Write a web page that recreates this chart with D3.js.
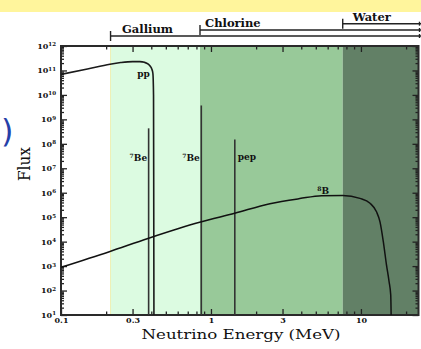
<!DOCTYPE html>
<html>
<head>
<meta charset="utf-8">
<script src="https://cdn.jsdelivr.net/npm/d3@7"></script>
<style>
  body { margin: 0; background: #fff; }
  svg { display: block; }
  text { font-family: "DejaVu Serif", serif; fill: #111; }
</style>
</head>
<body>
<svg id="chart" width="421" height="349"></svg>
<script>
// pp continuum: energy (MeV) and flux
const ppEnergy = [0.1, 0.15, 0.212, 0.25, 0.3, 0.336, 0.36, 0.382, 0.395, 0.403, 0.41, 0.414, 0.4155, 0.4165];
const ppFlux   = [6.9e10, 1.15e11, 1.8e11, 2.1e11, 2.3e11, 2.3e11, 2.15e11, 1.8e11, 1.45e11, 1.15e11, 7.5e10, 1e10, 1e5, 10];

// 8B continuum
const b8Energy = [0.1, 0.21, 0.38, 0.84, 1.44, 2.47, 3.91, 5.46, 7.56, 9.85, 11.5, 12.7, 13.4, 14.1, 14.8, 15.4, 15.8, 15.9];
const b8Flux   = [891, 3890, 13500, 61700, 144500, 355000, 575000, 759000, 776000, 589000, 372000, 166000, 64600, 10000, 1120, 234, 66, 10];

// monoenergetic lines
const lineEnergy = [0.384, 0.862, 1.442];
const lineFlux   = [4.3e8, 3.7e9, 1.5e8];
const lineNames  = ["7Be", "7Be", "pep"];

// detector thresholds (MeV)
const detectorNames     = ["Gallium", "Chlorine", "Water"];
const detectorThreshold = [0.214, 0.845, 7.56];

// axis ticks
const xLabelTicks = [0.1, 0.3, 1, 3, 10];
const xLabelText  = ["0.1", "0.3", "1", "3", "10"];
const yExponents  = [1, 2, 3, 4, 5, 6, 7, 8, 9, 10, 11, 12];

// styling
const detectorFill = ["#dcfbe1", "#98c999", "#628066"];
const ink = "#222";

const svg = d3.select("#chart");
const W = 421;
const pLeft = 61, pRight = 418.5, pTop = 46, pBottom = 315;

const x = d3.scaleLog().domain([0.1, 24.2]).range([pLeft, pRight]);
const y = d3.scaleLog().domain([10, 1e12]).range([pBottom, pTop]);

// yellow header band
svg.append("rect").attr("x", 0).attr("y", 0).attr("width", W).attr("height", 12).attr("fill", "#fff59c");

// stray blue bracket from the slide
svg.append("text").attr("x", 1).attr("y", 142)
  .style("font-family", "'DejaVu Sans', sans-serif").style("font-size", "32px").style("fill", "#2540a8")
  .text(")");

// detector shading
detectorThreshold.forEach((t, i) => {
  const x0 = x(t);
  const x1 = i < detectorThreshold.length - 1 ? x(detectorThreshold[i + 1]) : pRight;
  svg.append("rect").attr("x", x0).attr("y", pTop).attr("width", x1 - x0).attr("height", pBottom - pTop)
    .attr("fill", detectorFill[i]);
});
svg.append("line").attr("x1", x(detectorThreshold[0])).attr("x2", x(detectorThreshold[0]))
  .attr("y1", pTop).attr("y2", pBottom).attr("stroke", "#eef0b4").attr("stroke-width", 1);

// detector brackets above the plot
const bracketY = [36, 30, 23.7];
const bracketLabelDx = [11.5, 5, 10];
detectorThreshold.forEach((t, i) => {
  const x0 = x(t), yy = bracketY[i];
  const g = svg.append("g").attr("stroke", ink).attr("stroke-width", 1.4);
  g.append("line").attr("x1", x0).attr("x2", W).attr("y1", yy).attr("y2", yy);
  g.append("line").attr("x1", x0).attr("x2", x0).attr("y1", yy - 5).attr("y2", yy + 5);
  g.append("line").attr("x1", W - 1.5).attr("x2", W - 1.5).attr("y1", yy - 2).attr("y2", yy + 2);
  svg.append("text").attr("x", x0 + bracketLabelDx[i]).attr("y", yy - 3)
    .style("font-size", "11.5px").style("font-weight", "bold")
    .text(detectorNames[i]);
});

// minor tick values
const yMinor = [];
yExponents.slice(0, -1).forEach(e => { for (let m = 2; m <= 9; m++) yMinor.push(m * Math.pow(10, e)); });
const xMinor = [0.2, 0.4, 0.5, 0.6, 0.7, 0.8, 0.9, 2, 4, 5, 6, 7, 8, 9, 20];
const yMajor = yExponents.map(e => Math.pow(10, e));

function styleAxis(g) {
  g.select(".domain").remove();
  g.selectAll("line").attr("stroke", ink).attr("stroke-width", 1.3);
}

// left axis
svg.append("g").attr("transform", `translate(${pLeft},0)`)
  .call(d3.axisLeft(y).tickValues(yMinor).tickSizeInner(-3).tickSizeOuter(0).tickFormat(""))
  .call(styleAxis);
const yAx = svg.append("g").attr("transform", `translate(${pLeft},0)`)
  .call(d3.axisLeft(y).tickValues(yMajor).tickSizeInner(-6).tickSizeOuter(0).tickPadding(5))
  .call(styleAxis);
yAx.selectAll("text").each(function(d) {
  const t = d3.select(this).text("").attr("dy", "0.3em")
    .style("font-size", "8px").style("font-weight", "bold").style("font-family", "'DejaVu Serif', serif");
  t.append("tspan").text("10");
  t.append("tspan").attr("dy", "-0.45em").style("font-size", "5.5px").text(Math.round(Math.log10(d)));
});

// right axis
svg.append("g").attr("transform", `translate(${pRight},0)`)
  .call(d3.axisRight(y).tickValues(yMinor).tickSizeInner(-3).tickSizeOuter(0).tickFormat(""))
  .call(styleAxis);
svg.append("g").attr("transform", `translate(${pRight},0)`)
  .call(d3.axisRight(y).tickValues(yMajor).tickSizeInner(-6).tickSizeOuter(0).tickFormat(""))
  .call(styleAxis);

// top and bottom axes
[["axisTop", pTop], ["axisBottom", pBottom]].forEach(([fn, yy]) => {
  svg.append("g").attr("transform", `translate(0,${yy})`)
    .call(d3[fn](x).tickValues(xMinor).tickSizeInner(-3.5).tickSizeOuter(0).tickFormat(""))
    .call(styleAxis);
});
svg.append("g").attr("transform", `translate(0,${pTop})`)
  .call(d3.axisTop(x).tickValues(xLabelTicks).tickSizeInner(-6).tickSizeOuter(0).tickFormat(""))
  .call(styleAxis);
const xAx = svg.append("g").attr("transform", `translate(0,${pBottom})`)
  .call(d3.axisBottom(x).tickValues(xLabelTicks).tickSizeInner(-6).tickSizeOuter(0).tickPadding(2.5)
    .tickFormat((d, i) => xLabelText[i]))
  .call(styleAxis);
xAx.selectAll("text").style("font-size", "8px").style("font-weight", "bold")
  .style("font-family", "'DejaVu Serif', serif").attr("fill", "#111");

// frame
svg.append("rect").attr("x", pLeft).attr("y", pTop).attr("width", pRight - pLeft).attr("height", pBottom - pTop)
  .attr("fill", "none").attr("stroke", "#2a2a2a").attr("stroke-width", 2);

// monoenergetic lines
const lines = svg.append("g");
lineEnergy.forEach((e, i) => {
  lines.append("line").attr("x1", x(e)).attr("x2", x(e)).attr("y1", y(lineFlux[i])).attr("y2", pBottom)
    .attr("stroke", "#333").attr("stroke-width", 1.6);
  const lbl = lines.append("text").attr("y", 160).style("font-size", "9px").style("font-weight", "bold");
  if (lineNames[i] === "pep") {
    lbl.attr("x", x(e) + 3).text("pep");
  } else {
    lbl.attr("x", x(e) - 1.5).attr("text-anchor", "end");
    lbl.append("tspan").attr("dy", "-0.4em").style("font-size", "6px").text("7");
    lbl.append("tspan").attr("dy", "0.4em").text("Be");
  }
});

// continua
const line = d3.line().x(d => x(d[0])).y(d => y(d[1])).curve(d3.curveMonotoneX);
svg.append("path").datum(ppEnergy.map((e, i) => [e, ppFlux[i]]))
  .attr("d", line).attr("fill", "none").attr("stroke", "#1a1a1a").attr("stroke-width", 1.6);
svg.append("path").datum(b8Energy.map((e, i) => [e, b8Flux[i]]))
  .attr("d", line).attr("fill", "none").attr("stroke", "#111").attr("stroke-width", 1.5);

// continuum labels
svg.append("text").attr("x", x(ppEnergy[ppEnergy.length - 1]) - 4).attr("y", 77)
  .attr("text-anchor", "end").style("font-size", "9px").style("font-weight", "bold").text("pp");
const b8Peak = d3.maxIndex(b8Flux);
const b8l = svg.append("text").attr("x", x(5.6)).attr("y", y(b8Flux[b8Peak]) - 2.5)
  .attr("text-anchor", "middle").style("font-size", "9px").style("font-weight", "bold");
b8l.append("tspan").attr("dy", "-0.4em").style("font-size", "6px").text("8");
b8l.append("tspan").attr("dy", "0.4em").text("B");

// axis titles
svg.append("text").attr("x", 241).attr("y", 338.5).attr("text-anchor", "middle")
  .attr("textLength", 199).attr("lengthAdjust", "spacingAndGlyphs")
  .style("font-size", "13px").text("Neutrino Energy (MeV)");
svg.append("text").attr("transform", "translate(30,164) rotate(-90)").attr("text-anchor", "middle")
  .attr("textLength", 34).attr("lengthAdjust", "spacingAndGlyphs")
  .style("font-size", "17px").text("Flux");
</script>
</body>
</html>
